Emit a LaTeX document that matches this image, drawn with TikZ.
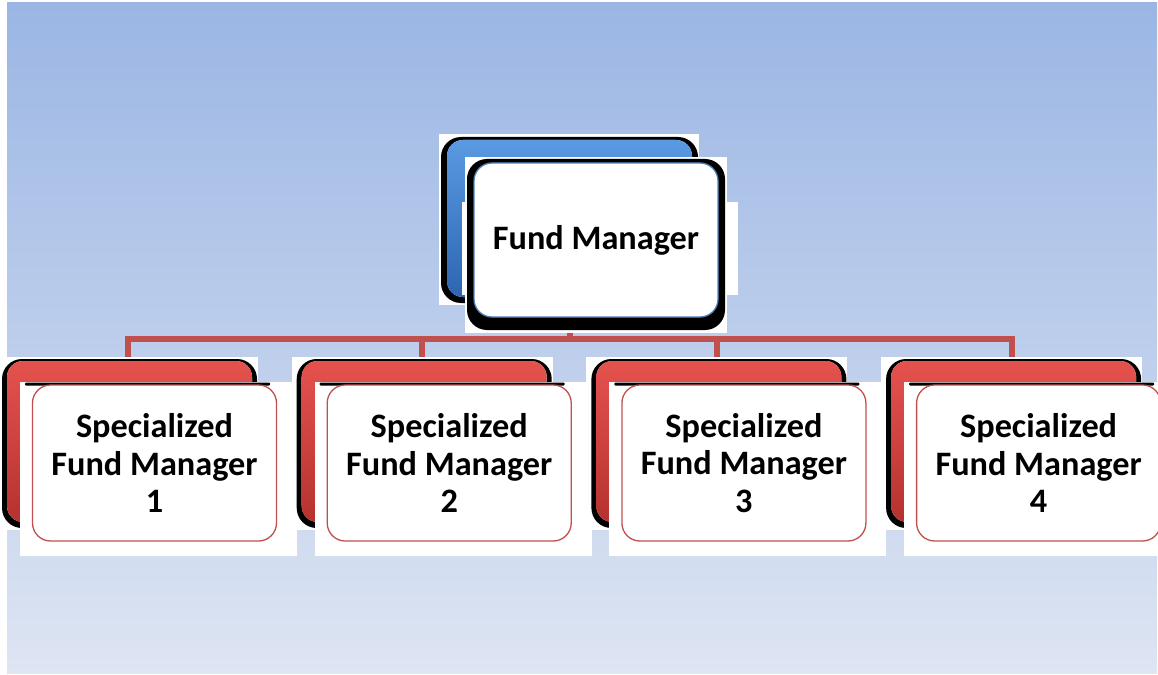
\documentclass[tikz,border=0pt]{standalone}
\usepackage{fontspec}
\setmainfont{Carlito}

\definecolor{skytop}{HTML}{9BB6E4}
\definecolor{skybot}{HTML}{DEE5F3}
\definecolor{bluetop}{HTML}{5A9AE2}
\definecolor{bluebot}{HTML}{2D65B3}
\definecolor{redtop}{HTML}{E5524E}
\definecolor{redbot}{HTML}{B5322F}
\definecolor{boxblue}{HTML}{4F81BD}
\definecolor{boxred}{HTML}{C0504D}
\newcommand{\pxu}{0.02cm}

\tikzset{
  pad/.style 2 args={rectangle, fill=white, inner sep=0pt,
    minimum width=#1*\pxu, minimum height=#2*\pxu},
  blackrim/.style 2 args={pad={#1}{#2}, fill=black, rounded corners=20*\pxu},
  backbox/.style 2 args={pad={#1}{#2}, rounded corners=16*\pxu},
  frontbox/.style={rectangle, fill=white, draw=#1, line width=1.3*\pxu,
    rounded corners=18*\pxu, minimum width=244*\pxu, minimum height=155*\pxu,
    inner sep=0pt, align=center, font=\bfseries\fontsize{19.5}{21.5}\selectfont},
  link/.style={draw=boxred, line width=6*\pxu}
}

\begin{document}
\begin{tikzpicture}[x=\pxu, y=-\pxu]
  \useasboundingbox[fill=white] (0,0) rectangle (1158,675);
  \fill[top color=skytop, bottom color=skybot] (7,3) rectangle (1157,673);

  % fund manager
  \node[pad={260}{171}] (fmbpad) at (569,219.5) {};
  \node[blackrim={257}{166}] at (569.5,220) {};
  \node[backbox={245}{157}, top color=bluetop, bottom color=bluebot] (fmb) at (569.5,218.5) {};
  \node[pad={262}{176}] (fmpad) at (596,245) {};
  \node[pad={276}{93}] at (600,248.5) {};
  \node[blackrim={258}{171}] at (596,244.5) {};
  \node[frontbox=boxblue, minimum height=154*\pxu] (fm) at (596,240) {Fund Manager};

  \coordinate (bus) at (fmb.south |- 0,339);
  \draw[link] (fmb.south |- fmpad.south) -- (bus);

  % specialized fund managers
  \foreach \k in {1,...,4}{
    \pgfmathsetmacro\xo{294.7*(\k-1)}
    \node[pad={261}{173}] (sfmpad\k) at (\xo+127.5,443.5) {};
    \node[blackrim={255}{169}] at (\xo+129.5,443.5) {};
    \node[backbox={245}{161}, top color=redtop, bottom color=redbot] (sfmb\k) at (\xo+129.5,441.5) {};
    \node[pad={277}{174}] at (\xo+158.5,469) {};
    \node[blackrim={245}{3}, rounded corners=1*\pxu] at (\xo+147.5,384) {};
    \node[frontbox=boxred, minimum height=156*\pxu] (sfm\k) at (\xo+154.5,463) {Specialized\\Fund Manager\\\k};
    \draw[link] (bus) -| (sfmpad\k.north);
  }
\end{tikzpicture}
\end{document}
